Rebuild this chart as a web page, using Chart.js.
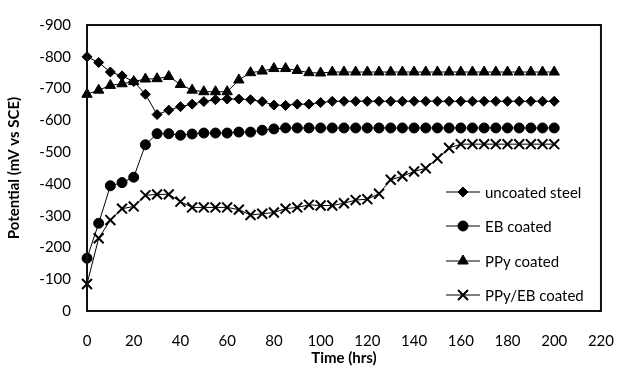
<!DOCTYPE html>
<html>
<head>
<meta charset="utf-8">
<title>Potential vs time</title>
<script src="https://cdn.jsdelivr.net/npm/chart.js@4/dist/chart.umd.min.js"></script>
<style>
  html, body { margin: 0; padding: 0; background: #fff; }
  #wrap { width: 635px; height: 378px; }
</style>
</head>
<body>
<div id="wrap"><canvas id="potentialChart" width="635" height="378"></canvas></div>
<script>
const hours = [0, 5, 10, 15, 20, 25, 30, 35, 40, 45, 50, 55, 60, 65, 70, 75, 80, 85, 90, 95,
  100, 105, 110, 115, 120, 125, 130, 135, 140, 145, 150, 155, 160, 165, 170, 175, 180, 185, 190, 195, 200];

const uncoatedSteel = [-800, -782, -752, -740, -722, -682, -618, -632, -643, -651, -659, -665, -667, -667, -665, -659, -648, -647, -651, -651,
  -656, -660, -660, -660, -660, -660, -660, -660, -660, -660, -660, -660, -660, -660, -660, -660, -660, -660, -660, -660, -660];

const ebCoated = [-166, -276, -394, -404, -421, -523, -558, -558, -553, -557, -560, -560, -560, -563, -563, -569, -573, -576, -576, -576,
  -576, -576, -576, -576, -576, -576, -576, -576, -576, -576, -576, -576, -576, -576, -576, -576, -576, -576, -576, -576, -576];

const ppyCoated = [-682, -695, -710, -715, -722, -730, -731, -738, -713, -695, -690, -690, -690, -727, -750, -755, -763, -763, -757, -750,
  -749, -752, -752, -752, -752, -752, -752, -752, -752, -752, -752, -752, -752, -752, -752, -752, -752, -752, -752, -752, -752];

const ppyEbCoated = [-85, -229, -286, -322, -329, -364, -367, -367, -344, -326, -326, -326, -326, -319, -302, -306, -310, -322, -326, -334,
  -332, -332, -339, -349, -352, -369, -413, -424, -439, -449, -480, -513, -525, -525, -525, -525, -525, -525, -525, -525, -525];

const xTicks = { min: 0, max: 220, step: 20 };
const yTicks = { min: -900, max: 0, step: 100 };

const fontFamily = "Lato, 'Open Sans', sans-serif";

const seriesStyles = [
  { label: "uncoated steel", values: uncoatedSteel, pointStyle: "rectRot", radius: 5 },
  { label: "EB coated", values: ebCoated, pointStyle: "circle", radius: 5 },
  { label: "PPy coated", values: ppyCoated, pointStyle: "triangle", radius: 6 },
  { label: "PPy/EB coated", values: ppyEbCoated, pointStyle: "crossRot", radius: 7 },
];

function toPoints(values) {
  return hours.map((hour, i) => ({ x: hour, y: values[i] }));
}

const plotBox = {
  id: "plotBox",
  afterDatasetsDraw(chart) {
    const { ctx, chartArea } = chart;
    ctx.save();
    ctx.strokeStyle = "#111";
    ctx.lineWidth = 2;
    ctx.strokeRect(chartArea.left, chartArea.top, chartArea.right - chartArea.left, chartArea.bottom - chartArea.top);
    ctx.restore();
  },
};

// legend sits inside the plot, bottom right, like the Excel original
const insideLegend = {
  id: "insideLegend",
  afterDraw(chart) {
    const { ctx } = chart;
    const rows = [192, 226, 261, 295];
    ctx.save();
    ctx.font = `15px ${fontFamily}`;
    ctx.textBaseline = "middle";
    ctx.textAlign = "left";
    seriesStyles.forEach((series, i) => {
      const y = rows[i];
      ctx.strokeStyle = "#000";
      ctx.fillStyle = "#000";
      ctx.lineWidth = 1;
      ctx.beginPath();
      ctx.moveTo(446, y);
      ctx.lineTo(480, y);
      ctx.stroke();
      ctx.lineWidth = series.pointStyle === "crossRot" ? 2 : 1;
      Chart.helpers.drawPoint(ctx, {
        pointStyle: series.pointStyle,
        radius: series.radius,
        rotation: 0,
        borderWidth: ctx.lineWidth,
      }, 463, y);
      ctx.fillStyle = "#000";
      ctx.fillText(series.label, 485, y + 1);
    });
    ctx.restore();
  },
};

new Chart(document.getElementById("potentialChart"), {
  type: "line",
  data: {
    datasets: seriesStyles.map((series) => ({
      label: series.label,
      data: toPoints(series.values),
      borderColor: "#000",
      backgroundColor: "#000",
      borderWidth: 1,
      pointStyle: series.pointStyle,
      pointRadius: series.radius,
      pointBackgroundColor: "#000",
      pointBorderColor: "#000",
      pointBorderWidth: series.pointStyle === "crossRot" ? 2 : 1,
      tension: 0,
      clip: false,
    })),
  },
  options: {
    responsive: false,
    animation: false,
    devicePixelRatio: 1,
    layout: { padding: { left: 5, right: 13, top: 12, bottom: 11 } },
    plugins: {
      legend: { display: false },
      tooltip: { enabled: false },
    },
    scales: {
      x: {
        type: "linear",
        min: xTicks.min,
        max: xTicks.max,
        grid: { display: false, drawTicks: false },
        border: { display: false },
        ticks: {
          stepSize: xTicks.step,
          color: "#000",
          padding: 21,
          font: { family: fontFamily, size: 15 },
        },
        title: {
          display: true,
          text: "Time (hrs)",
          color: "#000",
          padding: 0,
          font: { family: fontFamily, size: 15, weight: "bold" },
        },
        afterFit(scale) {
          scale.height = 56;
        },
      },
      y: {
        type: "linear",
        reverse: true,
        min: yTicks.min,
        max: yTicks.max,
        grid: { display: false, drawTicks: false },
        border: { display: false },
        ticks: {
          stepSize: yTicks.step,
          color: "#000",
          padding: 16,
          font: { family: fontFamily, size: 15 },
        },
        title: {
          display: true,
          text: "Potential (mV vs SCE)",
          color: "#000",
          padding: 0,
          font: { family: fontFamily, size: 15, weight: "bold" },
        },
        afterFit(scale) {
          scale.width = 82;
        },
      },
    },
  },
  plugins: [plotBox, insideLegend],
});
</script>
</body>
</html>
